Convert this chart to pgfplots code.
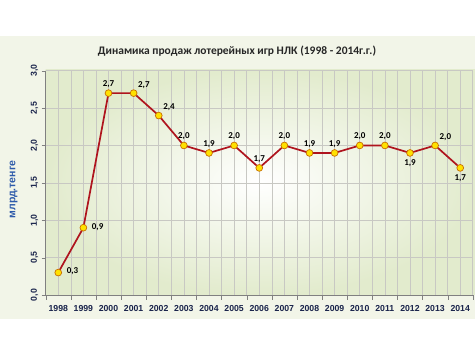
\documentclass[border=0pt]{standalone}
\usepackage{pgfplots}
\pgfplotsset{compat=1.18}
\usepackage{fontspec}
\setmainfont{Liberation Sans}
\newfontfamily\titlefont{Carlito}
\definecolor{panel}{RGB}{242,245,232}
\definecolor{plotgreen}{RGB}{226,235,205}
\definecolor{navy}{RGB}{25,35,75}
\definecolor{ylab}{RGB}{45,90,170}
\definecolor{lred}{RGB}{175,20,30}
\definecolor{myellow}{RGB}{255,225,0}
\definecolor{medge}{RGB}{200,110,0}
\definecolor{gridc}{RGB}{200,200,195}
\begin{document}
\begin{tikzpicture}
\useasboundingbox (0pt,0pt) rectangle (475pt,356pt);
\fill[panel] (0pt,37pt) rectangle (475pt,320pt);
\shade[inner color=white, outer color=plotgreen] (45.7pt,61pt) rectangle (475pt,286pt);
\node[font=\titlefont\bfseries\fontsize{11.5}{13}\selectfont, text=black!85] at (237pt,305pt) {Динамика продаж лотерейных игр НЛК (1998 - 2014г.г.)};
\begin{axis}[
  at={(45.7pt,61pt)}, anchor=south west,
  scale only axis, width=427.1pt, height=224.3pt,
  xmin=1997.5, xmax=2014.5, ymin=0, ymax=3,
  xtick={1998,...,2014},
  minor xtick={1997.5,1998.5,...,2014.5},
  ytick={0,0.5,...,3},
  major x tick style={draw=none},
  minor tick length=5pt, major tick length=4pt,
  tick align=outside,
  tick pos=left,
  xtick style={draw=gray}, ytick style={draw=gray},
  grid=both,
  major grid style={gridc, line width=0.6pt},
  minor grid style={gridc, line width=0.6pt},
  axis x line*=bottom, axis y line*=left,
  axis line style={gray, line width=0.6pt},
  x axis line style={-}, y axis line style={-},
  xticklabel style={font=\bfseries\fontsize{8.7}{9}\selectfont, text=navy, yshift=-3pt},
  x tick label style={/pgf/number format/1000 sep={}},
  yticklabel style={font=\bfseries\fontsize{8.7}{9}\selectfont, text=navy, rotate=90, anchor=south},
  y tick label style={/pgf/number format/.cd, fixed, fixed zerofill, precision=1, use comma},
  /pgf/number format/assume math mode=true,
  ylabel={млрд.тенге},
  ylabel style={font=\bfseries\fontsize{10.5}{12}\selectfont, text=ylab, at={(axis description cs:-0.075,0.47)}, anchor=center},
  clip=false,
]
\addplot[lred, line width=1.7pt, mark=*, mark size=3.4pt, mark options={fill=myellow, draw=medge, line width=0.7pt}] coordinates {
(1998,0.3)(1999,0.9)(2000,2.7)(2001,2.7)(2002,2.4)(2003,2.0)(2004,1.9)(2005,2.0)(2006,1.7)(2007,2.0)(2008,1.9)(2009,1.9)(2010,2.0)(2011,2.0)(2012,1.9)(2013,2.0)(2014,1.7)};
% labels above
\addplot[draw=none, mark=none, nodes near coords, point meta=explicit symbolic,
  every node near coord/.style={font=\titlefont\bfseries\fontsize{9}{10}\selectfont, text=black, anchor=south, yshift=2pt}] coordinates {
(2000,2.7)[2,7](2003,2.0)[2,0](2004,1.9)[1,9](2005,2.0)[2,0](2006,1.7)[1,7](2007,2.0)[2,0](2008,1.9)[1,9](2009,1.9)[1,9](2010,2.0)[2,0](2011,2.0)[2,0]};
% labels above right
\addplot[draw=none, mark=none, nodes near coords, point meta=explicit symbolic,
  every node near coord/.style={font=\titlefont\bfseries\fontsize{9}{10}\selectfont, text=black, anchor=south west, xshift=1pt, yshift=1pt}] coordinates {
(2001,2.7)[2,7](2002,2.4)[2,4](2013,2.0)[2,0]};
% labels right
\addplot[draw=none, mark=none, nodes near coords, point meta=explicit symbolic,
  every node near coord/.style={font=\titlefont\bfseries\fontsize{9}{10}\selectfont, text=black, anchor=west, xshift=5pt, yshift=1pt}] coordinates {
(1998,0.3)[0,3](1999,0.9)[0,9]};
% labels below
\addplot[draw=none, mark=none, nodes near coords, point meta=explicit symbolic,
  every node near coord/.style={font=\titlefont\bfseries\fontsize{9}{10}\selectfont, text=black, anchor=north, yshift=-3pt}] coordinates {
(2012,1.9)[1,9](2014,1.7)[1,7]};
\end{axis}
\end{tikzpicture}
\end{document}
